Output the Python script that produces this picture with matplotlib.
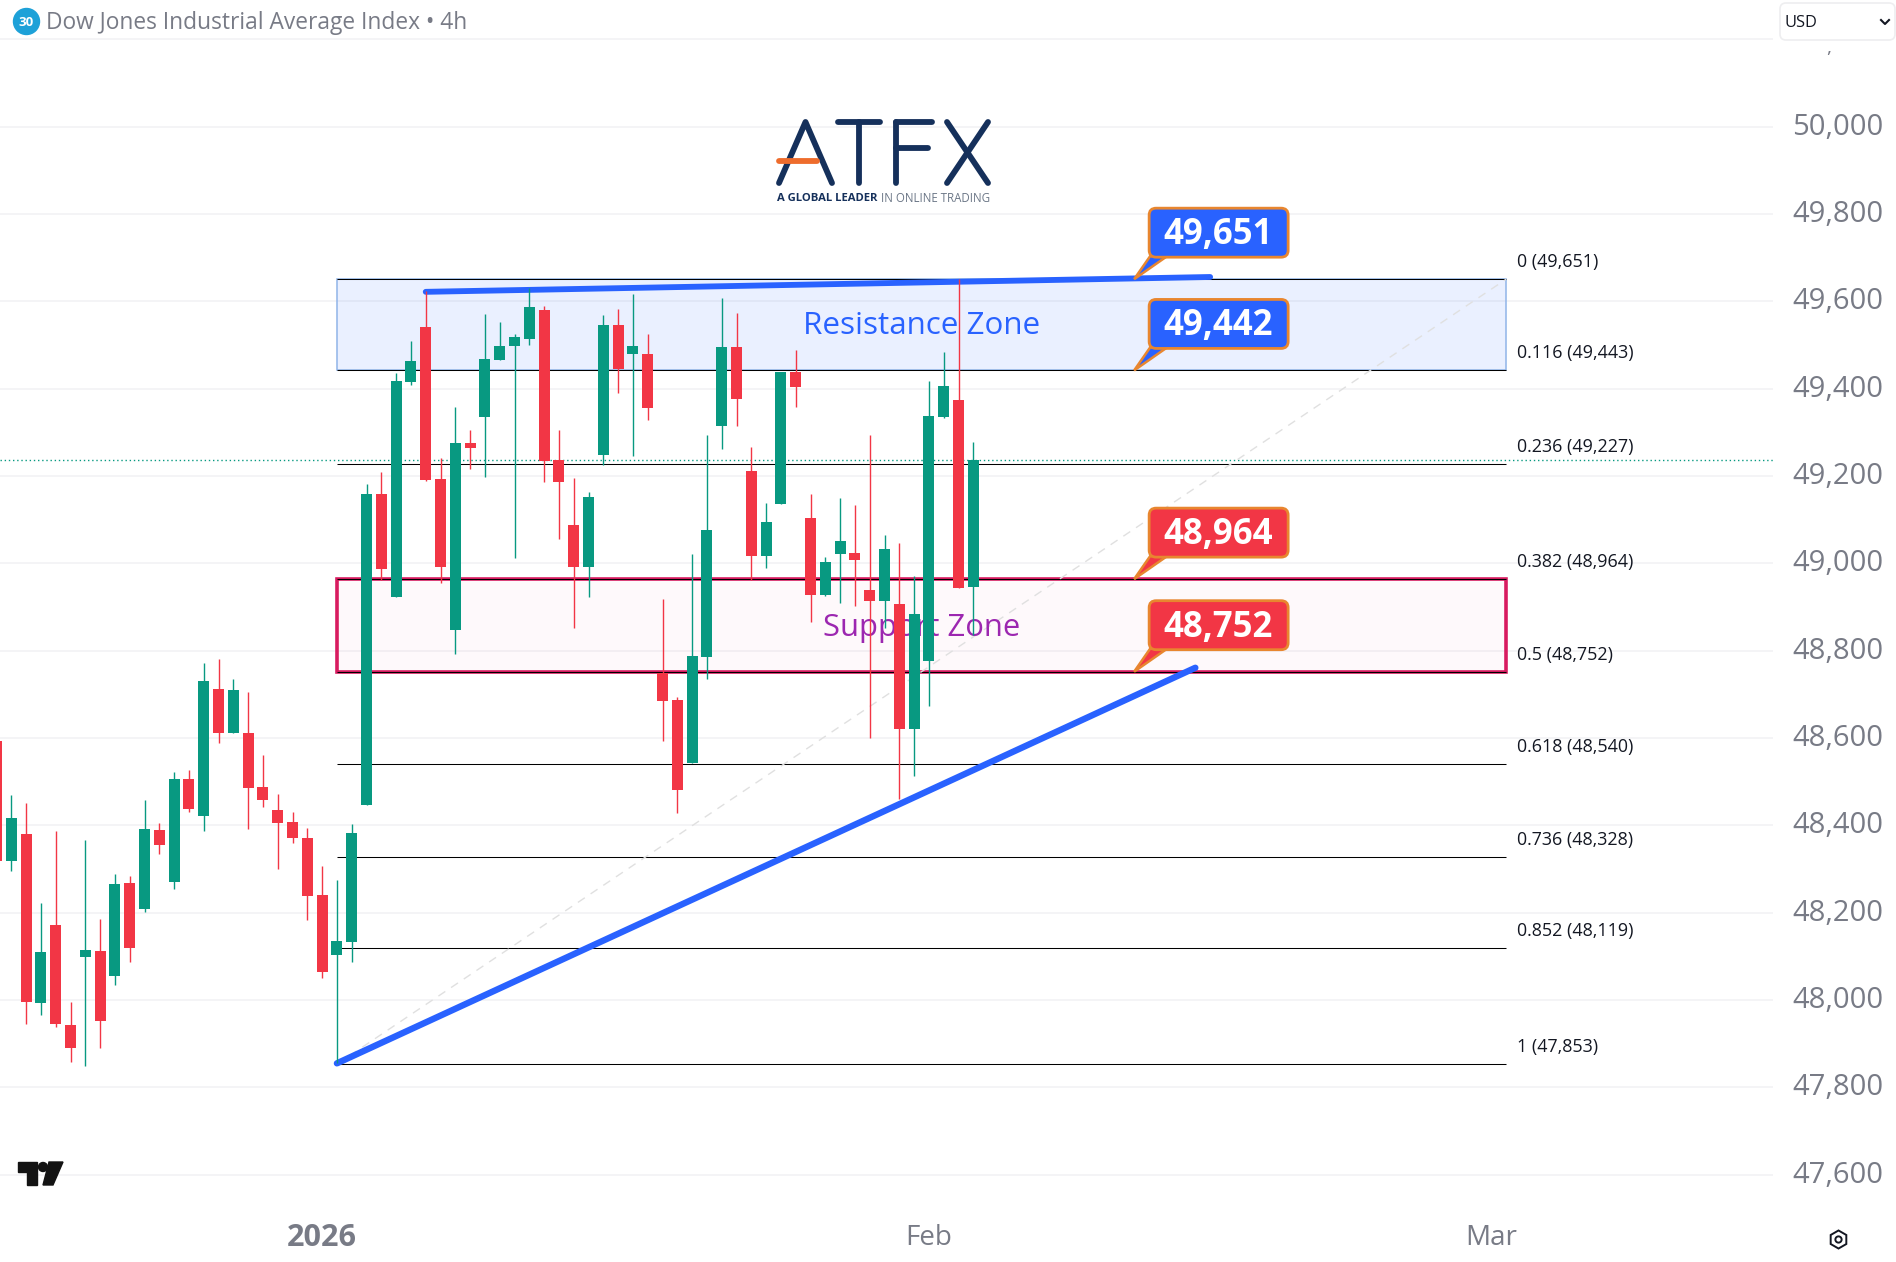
import numpy as np
import matplotlib
matplotlib.use('Agg')
import matplotlib.pyplot as plt
from matplotlib.patches import Rectangle, FancyBboxPatch, Polygon, Circle
from matplotlib.transforms import Affine2D

plt.rcParams['font.family'] = ['Open Sans', 'DejaVu Sans']

# 1. The data (bar -1 is the one cut by the left edge)
first_bar = -1
opens = [48593, 48319, 48380, 47994, 48172, 47943, 48099, 48112, 48056, 48268, 48209, 48389,
         48271, 48506, 48422, 48712, 48612, 48612, 48488, 48435, 48408, 48371, 48241, 48104,
         48134, 48447, 49159, 48924, 49415, 49541, 49193, 48848, 49276, 49336, 49466, 49498,
         49514, 49580, 49237, 49088, 48992, 49249, 49546, 49480, 49480, 48748, 48687, 48544,
         48786, 49314, 49495, 49212, 49017, 49137, 49438, 49104, 48927, 49021, 49024, 48939,
         48914, 48907, 48620, 48777, 49335, 49374, 48947]
highs = [48593, 48470, 48451, 48222, 48387, 47995, 48367, 48186, 48289, 48284, 48458, 48405,
         48522, 48527, 48772, 48781, 48735, 48706, 48561, 48472, 48431, 48394, 48307, 48275,
         48403, 49182, 49209, 49436, 49509, 49624, 49241, 49358, 49305, 49571, 49553, 49525,
         49630, 49590, 49305, 49196, 49164, 49569, 49583, 49617, 49525, 48918, 48693, 49021,
         49294, 49608, 49573, 49266, 49138, 49438, 49489, 49158, 49015, 49150, 49134, 49294,
         49065, 49047, 48971, 49418, 49484, 49652, 49278]
lows = [48319, 48296, 47946, 47966, 47939, 47857, 47850, 47891, 48035, 48088, 48202, 48335,
        48255, 48431, 48388, 48589, 48612, 48392, 48441, 48299, 48360, 48184, 48051, 47855,
        48088, 48447, 48962, 48924, 49409, 49189, 48954, 48793, 49216, 49199, 49466, 49013,
        49500, 49186, 49057, 48853, 48923, 49226, 49390, 49246, 49328, 48594, 48429, 48544,
        48736, 49261, 49314, 48963, 48989, 49137, 49359, 48865, 48926, 48910, 48903, 48599,
        48853, 48461, 48514, 48673, 49334, 48944, 48836]
closes = [48319, 48417, 47996, 48110, 47944, 47889, 48115, 47953, 48266, 48120, 48392, 48354,
          48506, 48438, 48731, 48612, 48710, 48486, 48457, 48406, 48370, 48239, 48065, 48135,
          48383, 49159, 48987, 49418, 49464, 49191, 48992, 49276, 49264, 49468, 49498, 49518,
          49587, 49235, 49186, 48992, 49152, 49546, 49445, 49498, 49357, 48685, 48480, 48788,
          49077, 49495, 49377, 49017, 49095, 49438, 49404, 48927, 49004, 49051, 49008, 48914,
          49033, 48620, 48884, 49338, 49406, 48944, 49237]

price_ticks = [47600, 47800, 48000, 48200, 48400, 48600, 48800, 49000, 49200, 49400, 49600, 49800, 50000]
header_price = 50200
time_ticks = [21, 62, 100]
time_labels = ['2026', 'Feb', 'Mar']

fib_ratios = ['0', '0.116', '0.236', '0.382', '0.5', '0.618', '0.736', '0.852', '1']
fib_prices = [49651, 49443, 49227, 48964, 48752, 48540, 48328, 48119, 47853]
fib_start, fib_end = 22, 101

resistance_zone = [49443, 49651]
support_zone = [48752, 48964]
upper_line = ([28, 81], [49622, 49656])
lower_line = ([22, 80], [47855, 48761])
callout_bar = 76
callout_prices = [49651, 49442, 48964, 48752]
callout_fills = ['#2962FF', '#2962FF', '#F23645', '#F23645']

UP = '#089981'
DOWN = '#F23645'
GRAY = '#787B86'
NAVY = '#15305B'
ORANGE = '#E8862F'

# 2. One axes over the whole picture, 14.8 px per bar
fig = plt.figure(figsize=(18.96, 12.62), dpi=100)
ax = fig.add_axes([0, 0, 1, 1])
ax.set_xlim(-0.7635, 127.34)
ax.set_ylim(47400, 50290.4)
ax.axis('off')

# pixel positions of the picture, y going down, for logos and header
px = Affine2D().scale(1, -1).translate(0, 1262) + Affine2D()

ax.hlines(price_ticks + [header_price], -0.7635, 119, color='#F1F1F4', lw=1.1, zorder=1)
ax.hlines(closes[-1], -0.7635, 119, color=UP, lw=1, linestyles=(0, (1, 2)), zorder=3)

# fib levels
ax.hlines(fib_prices, fib_start, fib_end, color='black', lw=0.75, zorder=2.5)
for ratio, price in zip(fib_ratios, fib_prices):
    ax.annotate(f'{ratio} ({price:,})', (fib_end, price), xytext=(11, 17), textcoords='offset pixels',
                fontsize=12.9, color='#131722', va='center', ha='left', zorder=4)
ax.plot([fib_start, fib_end], [fib_prices[-1], fib_prices[0]], color='#E0E0E0', lw=1,
        ls=(0, (6, 5)), zorder=3)

# zones
ax.add_patch(Rectangle((fib_start, resistance_zone[0]), fib_end - fib_start,
                       resistance_zone[1] - resistance_zone[0],
                       facecolor='#2962FF18', edgecolor='#90B4E8', lw=1.1, zorder=2))
ax.add_patch(Rectangle((fib_start, support_zone[0]), fib_end - fib_start,
                       support_zone[1] - support_zone[0],
                       facecolor='#E91E6306', edgecolor='#D81B60', lw=2.6, zorder=2))
ax.text((fib_start + fib_end) / 2, sum(resistance_zone) / 2 - 3, 'Resistance Zone', color='#2962FF',
        fontsize=22.6, ha='center', va='center', zorder=4)
ax.text((fib_start + fib_end) / 2, sum(support_zone) / 2 - 5, 'Support Zone', color='#9C27B0',
        fontsize=22.3, ha='center', va='center', zorder=4)

# trend lines
ax.plot(upper_line[0], upper_line[1], color='#2962FF', lw=4.2, solid_capstyle='round', zorder=4)
ax.plot(lower_line[0], lower_line[1], color='#2962FF', lw=4.6, solid_capstyle='round', zorder=4)

# candles
bars = np.arange(first_bar, first_bar + len(opens))
opens_a, closes_a = np.array(opens), np.array(closes)
colors = np.where(closes_a >= opens_a, UP, DOWN)
ax.vlines(bars, lows, highs, colors=colors, lw=1, zorder=5)
ax.bar(bars, np.abs(closes_a - opens_a), 0.74, np.minimum(opens_a, closes_a), color=colors, lw=0, zorder=5)

# price callouts, sizes in pixels around the tip
for price, fill in zip(callout_prices, callout_fills):
    tip = Affine2D().translate(*ax.transData.transform((callout_bar, price)))
    ax.add_patch(Polygon([(-2, 0), (14, 23), (31, 23)], closed=True, facecolor=fill, edgecolor=ORANGE,
                         lw=1.8, transform=tip, zorder=6))
    ax.add_patch(FancyBboxPatch((13, 22), 139, 49, boxstyle='round,pad=0,rounding_size=7', facecolor=fill,
                                edgecolor=ORANGE, lw=2, transform=tip, zorder=7))
    ax.text(82, 44, f'{price:,}', color='white', fontsize=25, fontweight='bold', ha='center',
            va='center', transform=tip, zorder=8)

# axis labels
for price in price_ticks:
    ax.text(126.5, price - 1, f'{price:,}', color=GRAY, fontsize=21, ha='right', va='center', zorder=4)
ax.text(122.8, 50180, ',', color=GRAY, fontsize=14, ha='center', va='center', zorder=4)
for pos, label in zip(time_ticks, time_labels):
    ax.text(pos, 47455, label, color=GRAY, fontsize=22 if label == '2026' else 20, ha='center', va='center',
            fontweight='bold' if label == '2026' else 'normal', zorder=4)

# header
ax.add_patch(Circle((26.5, 21.5), 13, color='#1DA1D8', transform=px, zorder=6))
ax.text(26.5, 22, '30', color='white', fontsize=9.5, fontweight='bold', ha='center', va='center',
        transform=px, zorder=7)
ax.text(46, 23, 'Dow Jones Industrial Average Index \u2022 4h', color=GRAY, fontsize=16.35, ha='left',
        va='center', transform=px, zorder=6)
ax.add_patch(FancyBboxPatch((1780, 3), 115, 37, boxstyle='round,pad=0,rounding_size=6', facecolor='white',
                            edgecolor='#EEEEF0', lw=1.2, transform=px, zorder=6))
ax.text(1785, 23, 'USD', color='#131722', fontsize=11.8, ha='left', va='center', transform=px, zorder=7)
ax.plot([1881, 1885, 1889], [20, 24, 20], color='#131722', lw=1.5, transform=px, zorder=7)

# ATFX logo
atfx_strokes = [
    ([779, 805.5, 832], [183, 122, 183]),
    ([838, 880], [122, 122]),
    ([859, 859], [122, 183]),
    ([896, 896], [122, 183]),
    ([896, 932], [122, 122]),
    ([896, 928], [148, 148]),
    ([947, 988], [122, 183]),
    ([988, 947], [122, 183]),
]
for xs, ys in atfx_strokes:
    ax.plot(xs, ys, color=NAVY, lw=4.2, solid_capstyle='round', transform=px, zorder=6)
ax.plot([779, 817], [161, 161], color='#EE6C2C', lw=4.2, solid_capstyle='round', transform=px, zorder=7)
ax.text(777, 198.5, 'A GLOBAL LEADER', color=NAVY, fontsize=8.1, fontweight='bold', ha='left', va='center',
        transform=px, zorder=6)
ax.text(990, 198.5, 'IN ONLINE TRADING', color='#6B7686', fontsize=8.3, ha='right', va='center',
        transform=px, zorder=6)

# TradingView mark and the settings gear
ax.add_patch(Polygon([(18, 1162), (37, 1162), (37, 1185), (27, 1185), (27, 1172), (18, 1172)],
                     color='#131313', transform=px, zorder=6))
ax.add_patch(Circle((43, 1167), 4.5, color='#131313', transform=px, zorder=6))
ax.add_patch(Polygon([(49, 1162), (63, 1162), (53, 1185), (43, 1185)], color='#131313', transform=px, zorder=6))
ax.plot([1838], [1239], marker='h', ms=13, mfc='none', mec='#131722', mew=1.4, transform=px, zorder=6)
ax.plot([1838], [1239], marker='o', ms=4.5, mfc='none', mec='#131722', mew=1.4, transform=px, zorder=6)

# 3. Save the image
fig.savefig('out.png', dpi=100)
